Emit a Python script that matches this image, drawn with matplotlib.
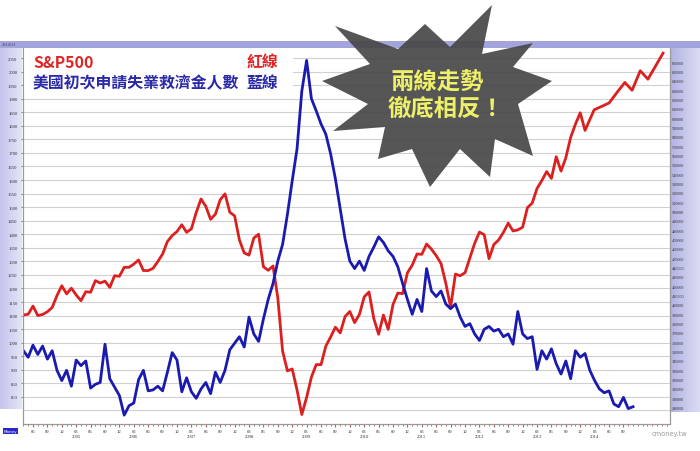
import numpy as np
import matplotlib.pyplot as plt
from matplotlib.patches import Rectangle, Polygon
from matplotlib.colors import LinearSegmentedColormap

plt.rcParams['font.family'] = ['Noto Sans CJK TC', 'DejaVu Sans']

# month index: 0 = Jan 2004
months = list(range(3, 131))

# initial jobless claims (thousands), right axis, blue
claims_k = [351, 344, 357, 347, 356, 342, 351, 330,
            319, 330, 313, 341, 335, 340, 311, 315, 317, 358,
            321, 312, 303, 282, 292, 295, 320, 330, 308, 309,
            313, 308, 328, 349, 341, 307, 322, 307, 300, 310,
            317, 305, 328, 317, 330, 352, 359, 366, 355, 387,
            369, 361, 385, 406, 423, 447, 465, 497, 533, 567,
            629, 662, 621, 608, 594, 583, 562, 535, 503, 471,
            447, 439, 447, 437, 452, 462, 473, 467, 458, 452,
            441, 423, 406, 390, 406, 393, 439, 415, 409, 415,
            401, 396, 401, 387, 377, 380, 369, 362, 374, 377,
            372, 374, 366, 369, 358, 393, 369, 364, 366, 331,
            351, 342, 353, 337, 326, 340, 321, 351, 344, 348,
            330, 319, 310, 306, 308, 294, 291, 301, 289, 291]

# S&P 500, left axis, red
sp500 = [1102, 1105, 1135, 1100, 1104, 1114, 1130, 1174,
         1210, 1180, 1201, 1176, 1155, 1188, 1186, 1229, 1220, 1227,
         1204, 1247, 1245, 1278, 1278, 1290, 1305, 1266, 1266, 1274,
         1299, 1327, 1373, 1395, 1410, 1435, 1407, 1420, 1480, 1530,
         1503, 1455, 1474, 1527, 1549, 1481, 1468, 1379, 1331, 1323,
         1386, 1400, 1280, 1267, 1283, 1165, 969, 896, 903, 826,
         735, 798, 873, 919, 919, 987, 1021, 1057, 1036, 1096,
         1115, 1074, 1104, 1169, 1187, 1089, 1031, 1102, 1049, 1141,
         1183, 1181, 1258, 1286, 1327, 1326, 1364, 1345, 1321, 1292,
         1219, 1131, 1253, 1247, 1258, 1312, 1366, 1408, 1398, 1310,
         1362, 1379, 1407, 1441, 1412, 1416, 1426, 1498, 1515, 1569,
         1598, 1631, 1606, 1686, 1633, 1682, 1757, 1806, 1848, 1783,
         1859, 1872, 1884, 1924, 1960, 1931, 2003, 1972, 2018, 2068]
# the red curve is stretched in 2014 in the source picture
sp500_x = list(range(3, 121)) + [121.9, 123.5, 125, 126.7, 128.3, 129.8,
                                 131.5, 133.1, 134.6, 136.25]

left_ticks = list(range(800, 2051, 50))
grid_levels = list(range(750, 2051, 50))
right_ticks = list(range(290000, 660001, 10000))
quarter_ticks = list(range(5, 129, 3))
month_names = {5: '06', 8: '09', 11: '12', 2: '03'}

W, H = 700, 452
fig = plt.figure(figsize=(7, 4.52), dpi=100)
fx = lambda px: px / W
fy = lambda py: 1 - py / H

# lavender side strips
grad = np.linspace(0, 1, 64).reshape(1, -1)
sl = fig.add_axes([0, fy(410), fx(22), (410 - 43) / H])
sl.imshow(grad, aspect='auto', extent=[0, 1, 0, 1],
          cmap=LinearSegmentedColormap.from_list('l', ['#c4c4ee', '#e4e4f8']))
sl.axis('off')
sl.set_zorder(0)
sr = fig.add_axes([fx(670), fy(413), fx(30), (413 - 43) / H])
sr.imshow(grad, aspect='auto', extent=[0, 1, 0, 1],
          cmap=LinearSegmentedColormap.from_list('r', ['#b2b2e4', '#dcdcf4']))
sr.axis('off')
sr.set_zorder(0)

ax = fig.add_axes([fx(23), fy(425), fx(670) - fx(23), (425 - 49) / H])
ax.set_zorder(1)
ax2 = ax.twinx()
ax2.set_zorder(2)
ax2.patch.set_visible(False)

for g in grid_levels:
    ax.axhline(g, color='#d0d0d0', lw=0.8, zorder=0.5)

ax.plot(sp500_x, sp500, color='#dc1f1f', lw=2.0, zorder=3)
ax2.plot(months, np.array(claims_k) * 1000, color='#1a1ab0', lw=2.0)

ax.set_xlim(2.92, 137.7)
ax.set_ylim(700, 2087)
ax2.set_ylim(272500, 675300)

ax.set_yticks(left_ticks)
ax.set_yticklabels([str(v) for v in left_ticks], family='Liberation Serif',
                   fontsize=3.4, color='#333')
ax.tick_params(axis='y', length=1.5, pad=2.5, color='#888')
ax2.set_yticks(right_ticks)
ax2.set_yticklabels([str(v) for v in right_ticks], family='Liberation Serif',
                    fontsize=3.1, color='#333')
ax2.tick_params(axis='y', length=0, pad=1.3)

xlabels = []
for m in quarter_ticks:
    lab = month_names[m % 12]
    if m % 12 == 2:
        lab += '\n' + str(2004 + m // 12)
    xlabels.append(lab)
ax.set_xticks(quarter_ticks)
ax.set_xticklabels(xlabels, family='Liberation Serif', fontsize=3.4,
                   color='#333', linespacing=1.25, va='top')
ax.set_xticks(range(3, 138), minor=True)
ax.tick_params(axis='x', which='major', length=2.5, pad=1, color='#b06060')
ax.tick_params(axis='x', which='minor', length=1.5, color='#b06060')

for a in (ax, ax2):
    for s in a.spines.values():
        s.set_color('#999999')
        s.set_linewidth(0.8)
    a.spines['top'].set_visible(False)

# top band
fig.add_artist(Rectangle((0, fy(49)), 1, 7 / H, transform=fig.transFigure,
                         facecolor='#a4a4dc', edgecolor='none', zorder=3))
fig.text(fx(2), fy(45.5), '2014/11', fontsize=3.2, color='#333366',
         family='Liberation Serif', va='center', zorder=4)

# title box
fig.add_artist(Rectangle((fx(23.5), fy(92)), fx(293) - fx(23.5), (92 - 49) / H,
                         transform=fig.transFigure, facecolor='white',
                         edgecolor='none', zorder=1.5))
fig.text(fx(33), fy(63), 'S&P500', color='#e02525', fontsize=11.4,
         weight='bold', va='center', zorder=6)
fig.text(fx(278), fy(63), '紅線', color='#e02525', fontsize=11.4,
         weight='bold', ha='right', va='center', zorder=6)
fig.text(fx(33), fy(83), '美國初次申請失業救濟金人數', color='#2a2aa8',
         fontsize=11.4, weight='bold', va='center', zorder=6)
fig.text(fx(278), fy(83), '藍線', color='#2a2aa8', fontsize=11.4,
         weight='bold', ha='right', va='center', zorder=6)

# star callout
star_px = [(335, 27), (398, 50), (425, 25), (450, 48), (492, 6), (482, 55),
           (533, 44), (513, 68), (552, 82), (518, 105), (533, 157), (495, 140),
           (490, 178), (460, 150), (430, 188), (412, 150), (378, 160),
           (385, 128), (333, 132), (368, 105), (322, 82), (370, 65)]
fig.add_artist(Polygon([(fx(a), fy(b)) for a, b in star_px], closed=True,
                       transform=fig.transFigure, facecolor='#474747',
                       edgecolor='none', alpha=0.92, zorder=5))
fig.text(fx(437), fy(82), '兩線走勢', color='#eef06a', fontsize=16.8,
         weight='bold', ha='center', va='center', zorder=6)
fig.text(fx(446), fy(110), '徹底相反！', color='#eef06a', fontsize=16.8,
         weight='bold', ha='center', va='center', zorder=6)

# footer
fig.text(fx(687), fy(434), 'cmoney.tw', color='#9a9a9a', fontsize=4.8,
         ha='right', va='center', family='DejaVu Sans')
fig.text(fx(10.5), fy(432), 'Money', color='white', fontsize=3,
         ha='center', va='center', family='DejaVu Sans',
         bbox=dict(boxstyle='square,pad=0.25', facecolor='#2828c8', edgecolor='none'))

fig.savefig('out.png', dpi=100)
